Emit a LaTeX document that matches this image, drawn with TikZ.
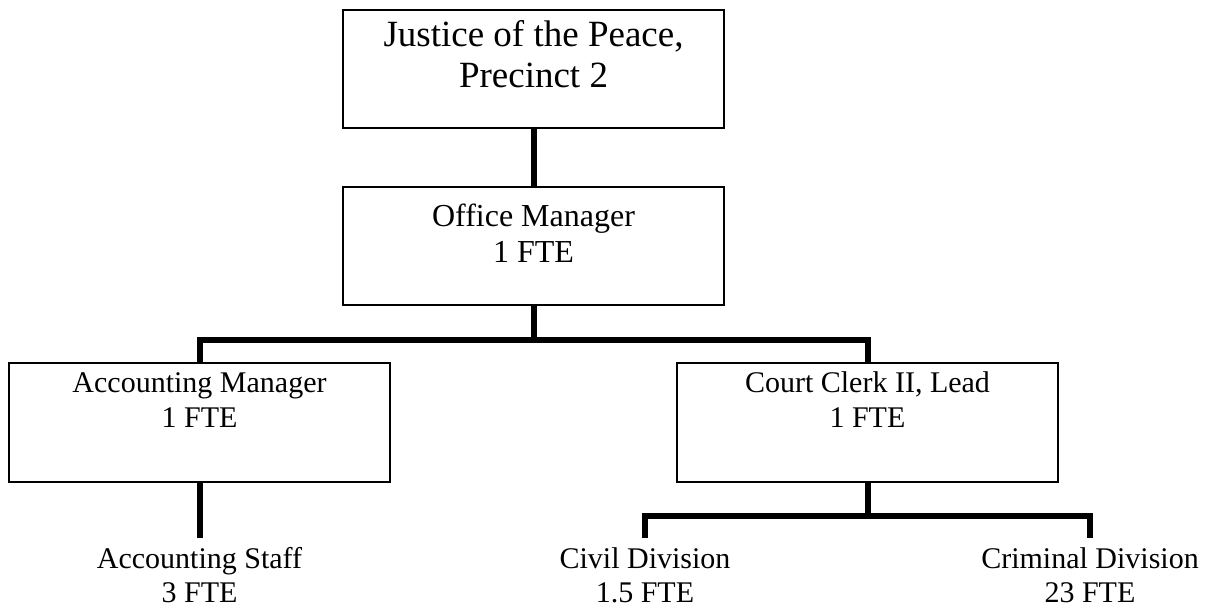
\documentclass[tikz,border=0pt]{standalone}
\usepackage{fontspec}
\setmainfont{Liberation Serif}
\begin{document}
\begin{tikzpicture}[x=1pt,y=-1pt,
  box/.style={draw=black, line width=1.8pt, inner sep=0pt,
              minimum width=381pt, minimum height=118pt},
  title/.style={align=center, inner sep=0pt, anchor=base},
  leaf/.style={align=center, inner xsep=0pt, inner ysep=8.5pt, anchor=base,
               font=\fontsize{30}{34}\selectfont},
  wire/.style={line width=6pt, line join=miter}
]
\useasboundingbox (0,0) rectangle (1208,608);

% boxes
\node[box] (jp) at (533.5,69) {};
\node[box] (om) at (533.5,246) {};
\node[box, minimum height=119pt] (am) at (199.5,422.5) {};
\node[box, minimum height=119pt] (cc) at (867.5,422.5) {};

% box captions (base anchor sits on the last line)
\node[title, font=\fontsize{37}{41}\selectfont] (jpT) at ([yshift=-78pt]jp.north)
  {Justice of the Peace,\\Precinct 2};
\node[title, font=\fontsize{32}{36}\selectfont] (omT) at ([yshift=-76pt]om.north)
  {Office Manager\\1 FTE};
\node[title, font=\fontsize{30}{35}\selectfont] (amT) at ([yshift=-65pt]am.north)
  {Accounting Manager\\1 FTE};
\node[title, font=\fontsize{30}{35}\selectfont] (ccT) at ([yshift=-65pt]cc.north)
  {Court Clerk II, Lead\\1 FTE};

% unboxed units
\node[leaf] (as) at (199.5,602) {Accounting Staff\\3 FTE};
\node[leaf] (cd) at (645,602) {Civil Division\\1.5 FTE};
\node[leaf] (cr) at (1090,602) {Criminal Division\\23 FTE};

% bus lines
\coordinate (busA) at (533.5,340);
\coordinate (busB) at (867.5,516);

% connectors
\draw[wire] (jp.south) -- (om.north);
\draw[wire] (om.south) -- (busA);
\draw[wire] (am.north) |- (busA) -| (cc.north);
\draw[wire] (am.south) -- (am.south |- as.north);
\draw[wire] (cc.south) -- (busB);
\draw[wire] (cd.north) |- (busB) -| (cr.north);
\end{tikzpicture}
\end{document}
